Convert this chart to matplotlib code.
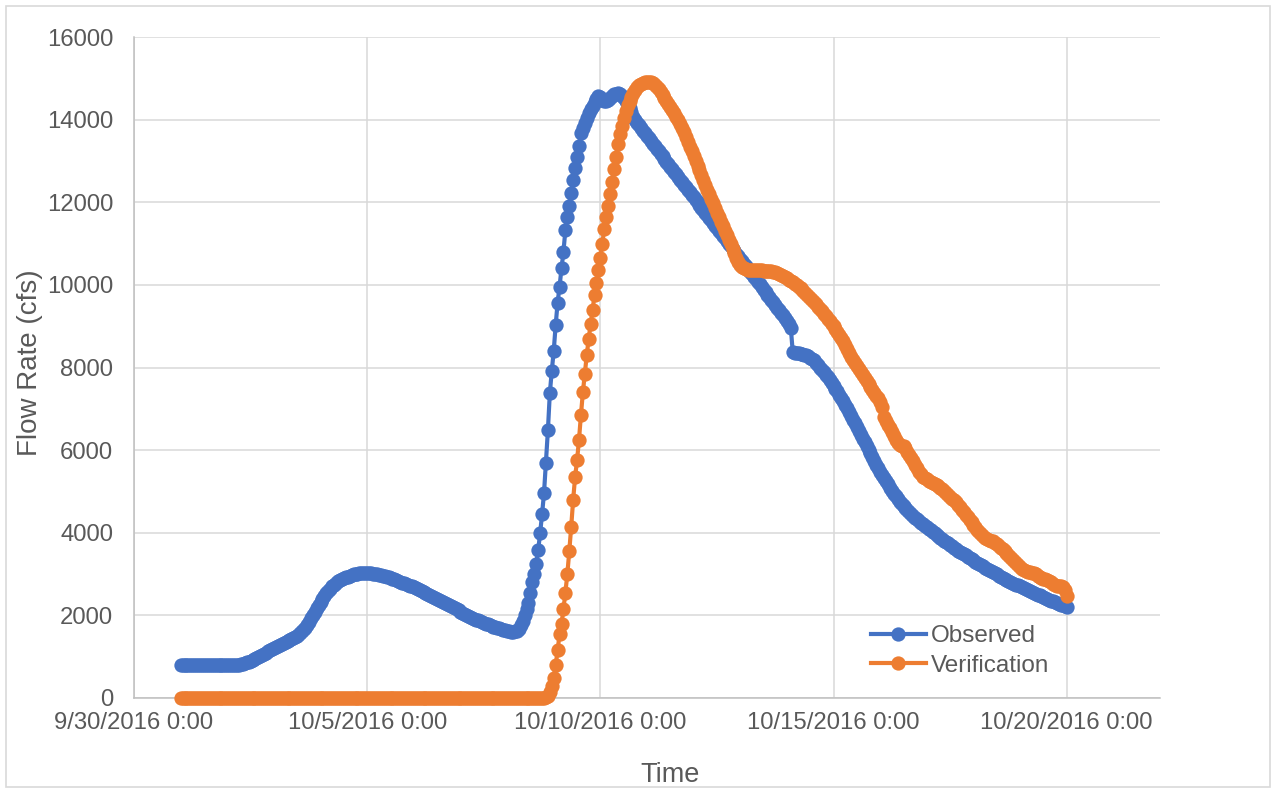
import matplotlib
matplotlib.use("Agg")
import matplotlib.pyplot as plt
import matplotlib.dates as mdates
from matplotlib.patches import Rectangle
from matplotlib.ticker import FuncFormatter
import pandas as pd

# Hourly flow series, starting 10/1/2016 0:00 (cfs)
series_start = "2016-10-01 00:00"

observed_cfs = [
    # 10/1
    790, 790, 790, 790, 790, 790, 790, 790, 790, 790, 790, 790, 790, 790, 790, 790, 790, 790, 790, 790, 790, 790, 790, 790,
    # 10/2
    790, 790, 790, 795, 800, 805, 810, 815, 825, 840, 860, 880, 900, 920, 940, 960, 985, 1010, 1040, 1070, 1100, 1130, 1160, 1185,
    # 10/3
    1210, 1235, 1255, 1280, 1300, 1320, 1345, 1370, 1395, 1420, 1445, 1470, 1500, 1540, 1590, 1640, 1700, 1770, 1850, 1930, 2010, 2090, 2170, 2250,
    # 10/4
    2330, 2400, 2470, 2540, 2600, 2650, 2700, 2745, 2785, 2820, 2850, 2875, 2900, 2920, 2940, 2960, 2975, 2990, 3000, 3010, 3020, 3025, 3030, 3035,
    # 10/5
    3035, 3030, 3020, 3010, 3000, 2990, 2980, 2970, 2960, 2950, 2940, 2925, 2910, 2890, 2870, 2850, 2830, 2810, 2795, 2780, 2760, 2740, 2720, 2700,
    # 10/6
    2680, 2655, 2635, 2610, 2590, 2570, 2545, 2520, 2500, 2480, 2455, 2430, 2405, 2380, 2355, 2330, 2305, 2280, 2260, 2235, 2210, 2180, 2150, 2120,
    # 10/7
    2090, 2060, 2030, 2005, 1980, 1960, 1940, 1920, 1900, 1880, 1860, 1840, 1820, 1800, 1780, 1765, 1750, 1730, 1715, 1700, 1685, 1670, 1655, 1640,
    # 10/8
    1625, 1610, 1600, 1600, 1610, 1630, 1680, 1760, 1870, 2000, 2150, 2300, 2550, 2800, 3000, 3250, 3580, 3990, 4450, 4960, 5700, 6480, 7380, 7920,
    # 10/9
    8400, 9030, 9570, 9960, 10400, 10800, 11330, 11650, 11920, 12220, 12540, 12830, 13100, 13350, 13670, 13800, 13910, 14040, 14150, 14250, 14320, 14420, 14500, 14560,
    # 10/10
    14550, 14480, 14440, 14440, 14470, 14530, 14580, 14610, 14630, 14640, 14620, 14580, 14520, 14450, 14380, 14280, 14180, 14070, 13980, 13920, 13860, 13800, 13735, 13670,
    # 10/11
    13610, 13545, 13485, 13420, 13360, 13300, 13235, 13175, 13110, 13050, 12985, 12925, 12860, 12800, 12740, 12675, 12615, 12550, 12490, 12425, 12365, 12305, 12240, 12180,
    # 10/12
    12120, 12055, 11995, 11930, 11870, 11810, 11745, 11685, 11620, 11560, 11500, 11435, 11375, 11310, 11250, 11190, 11125, 11065, 11000, 10940, 10880, 10815, 10755, 10690,
    # 10/13
    10630, 10570, 10505, 10445, 10380, 10320, 10260, 10195, 10135, 10070, 10010, 9950, 9885, 9825, 9760, 9700, 9640, 9575, 9510, 9450, 9385, 9320, 9260, 9190,
    # 10/14
    9120, 9050, 8960, 8380, 8360, 8350, 8340, 8330, 8320, 8310, 8300, 8270, 8240, 8210, 8180, 8120, 8060, 8000, 7940, 7880, 7820, 7760, 7700, 7630,
    # 10/15
    7560, 7490, 7420, 7340, 7260, 7180, 7095, 7010, 6920, 6830, 6740, 6650, 6555, 6460, 6370, 6280, 6190, 6100, 6010, 5920, 5830, 5740, 5650, 5560,
    # 10/16
    5480, 5400, 5320, 5245, 5170, 5095, 5020, 4950, 4880, 4815, 4755, 4700, 4645, 4595, 4545, 4500, 4455, 4410, 4365, 4325, 4285, 4245, 4205, 4170,
    # 10/17
    4135, 4100, 4060, 4025, 3990, 3950, 3915, 3880, 3845, 3810, 3775, 3740, 3705, 3670, 3640, 3605, 3570, 3540, 3510, 3480, 3450, 3420, 3390, 3360,
    # 10/18
    3330, 3300, 3270, 3240, 3215, 3185, 3155, 3130, 3100, 3075, 3045, 3020, 2990, 2965, 2940, 2915, 2890, 2865, 2840, 2815, 2795, 2770, 2745, 2725,
    # 10/19
    2700, 2680, 2655, 2635, 2610, 2590, 2570, 2545, 2525, 2505, 2485, 2460, 2440, 2420, 2400, 2380, 2360, 2340, 2320, 2300, 2280, 2260, 2240, 2220,
    # 10/20
    2200,
]

verification_cfs = [
    # 10/1
    0, 0, 0, 0, 0, 0, 0, 0, 0, 0, 0, 0, 0, 0, 0, 0, 0, 0, 0, 0, 0, 0, 0, 0,
    # 10/2
    0, 0, 0, 0, 0, 0, 0, 0, 0, 0, 0, 0, 0, 0, 0, 0, 0, 0, 0, 0, 0, 0, 0, 0,
    # 10/3
    0, 0, 0, 0, 0, 0, 0, 0, 0, 0, 0, 0, 0, 0, 0, 0, 0, 0, 0, 0, 0, 0, 0, 0,
    # 10/4
    0, 0, 0, 0, 0, 0, 0, 0, 0, 0, 0, 0, 0, 0, 0, 0, 0, 0, 0, 0, 0, 0, 0, 0,
    # 10/5
    0, 0, 0, 0, 0, 0, 0, 0, 0, 0, 0, 0, 0, 0, 0, 0, 0, 0, 0, 0, 0, 0, 0, 0,
    # 10/6
    0, 0, 0, 0, 0, 0, 0, 0, 0, 0, 0, 0, 0, 0, 0, 0, 0, 0, 0, 0, 0, 0, 0, 0,
    # 10/7
    0, 0, 0, 0, 0, 0, 0, 0, 0, 0, 0, 0, 0, 0, 0, 0, 0, 0, 0, 0, 0, 0, 0, 0,
    # 10/8
    0, 0, 0, 0, 0, 0, 0, 0, 0, 0, 0, 0, 0, 0, 0, 0, 0, 0, 0, 0, 15, 60, 150, 300,
    # 10/9
    480, 800, 1150, 1550, 1800, 2150, 2550, 3000, 3550, 4150, 4800, 5350, 5750, 6250, 6850, 7400, 7850, 8300, 8700, 9050, 9400, 9750, 10050, 10350,
    # 10/10
    10650, 11000, 11350, 11650, 11900, 12200, 12500, 12800, 13100, 13400, 13650, 13850, 14050, 14200, 14350, 14450, 14550, 14640, 14710, 14780, 14830, 14860, 14885, 14900,
    # 10/11
    14910, 14910, 14900, 14880, 14850, 14800, 14740, 14670, 14600, 14520, 14440, 14370, 14300, 14225, 14150, 14070, 13990, 13900, 13800, 13690, 13575, 13460, 13345, 13230,
    # 10/12
    13115, 13000, 12885, 12770, 12655, 12540, 12420, 12300, 12190, 12080, 11970, 11860, 11750, 11640, 11530, 11420, 11310, 11200, 11095, 10990, 10880, 10770, 10660, 10560,
    # 10/13
    10480, 10430, 10400, 10380, 10370, 10365, 10360, 10360, 10360, 10360, 10355, 10350, 10345, 10340, 10335, 10330, 10325, 10315, 10300, 10280, 10260, 10240, 10215, 10190,
    # 10/14
    10160, 10130, 10100, 10065, 10030, 9995, 9955, 9915, 9870, 9825, 9780, 9730, 9680, 9630, 9580, 9525, 9470, 9415, 9360, 9305, 9245, 9185, 9125, 9065,
    # 10/15
    9000, 8935, 8870, 8790, 8710, 8630, 8540, 8450, 8350, 8250, 8170, 8100, 8030, 7960, 7890, 7820, 7750, 7670, 7600, 7530, 7460, 7390, 7320, 7250,
    # 10/16
    7170, 7050, 6800, 6700, 6620, 6540, 6450, 6340, 6250, 6170, 6120, 6100, 6090, 6040, 5960, 5880, 5800, 5740, 5650, 5560, 5480, 5420, 5360, 5320,
    # 10/17
    5290, 5260, 5230, 5200, 5180, 5160, 5130, 5090, 5050, 5010, 4970, 4920, 4870, 4820, 4790, 4740, 4680, 4620, 4560, 4500, 4430, 4370, 4310, 4250,
    # 10/18
    4190, 4130, 4070, 4010, 3960, 3920, 3880, 3850, 3830, 3810, 3790, 3760, 3720, 3680, 3640, 3600, 3560, 3510, 3460, 3410, 3360, 3310, 3260, 3210,
    # 10/19
    3170, 3130, 3100, 3080, 3060, 3050, 3030, 3015, 2990, 2960, 2930, 2910, 2890, 2870, 2855, 2830, 2800, 2770, 2740, 2720, 2710, 2700, 2680, 2620,
    # 10/20
    2480,
]

series_names = ["Observed", "Verification"]
series_colors = ["#4472C4", "#ED7D31"]

x_ticks = ["2016-09-30", "2016-10-05", "2016-10-10", "2016-10-15", "2016-10-20"]
x_range = ["2016-09-30", "2016-10-22"]
y_ticks = [0, 2000, 4000, 6000, 8000, 10000, 12000, 14000, 16000]

TEXT = "#595959"
GRID = "#D9D9D9"

plt.rcParams["font.family"] = ["Liberation Sans", "DejaVu Sans"]

W, H = 1276, 793
fig = plt.figure(figsize=(W / 100, H / 100), dpi=100)
ax = fig.add_axes([134 / W, 1 - 698 / H, (1160 - 134) / W, (698 - 37) / H])

for name, color, values in zip(series_names, series_colors,
                               [observed_cfs, verification_cfs]):
    times = pd.date_range(series_start, periods=len(values), freq="h")
    ax.plot(times, values, color=color, lw=3.0, marker="o", ms=10.3,
            markeredgewidth=0, label=name, clip_on=False, zorder=3)

ax.set_xlim(pd.Timestamp(x_range[0]), pd.Timestamp(x_range[1]))
ax.set_ylim(y_ticks[0], y_ticks[-1])
ax.set_yticks(y_ticks)
ax.set_xticks([pd.Timestamp(t) for t in x_ticks])


def date_label(v, _pos):
    d = mdates.num2date(v)
    return f"{d.month}/{d.day}/{d.year} {d.hour}:{d.minute:02d}"


ax.xaxis.set_major_formatter(FuncFormatter(date_label))

ax.grid(True, color=GRID, lw=1.1)
ax.set_axisbelow(True)
for side in ("top", "right"):
    ax.spines[side].set_visible(False)
for side in ("left", "bottom"):
    ax.spines[side].set_color("#BFBFBF")
    ax.spines[side].set_linewidth(1.1)
    ax.spines[side].set_zorder(1)

ax.tick_params(axis="both", length=0, labelsize=17.2, labelcolor=TEXT)
ax.tick_params(axis="y", pad=15)
ax.tick_params(axis="x", pad=10)

fig.text(670 / W, 1 - 775 / H, "Time", ha="center", va="center",
         fontsize=19.5, color=TEXT)
fig.text(30 / W, 1 - 363 / H, "Flow Rate (cfs)", ha="center", va="center",
         rotation=90, fontsize=20, color=TEXT)

leg = ax.legend(loc="center left", bbox_to_anchor=(871 / W, 1 - 651 / H),
                bbox_transform=fig.transFigure, frameon=False, fontsize=17.5,
                handlelength=2.25, handletextpad=0.2, labelspacing=0.3,
                borderpad=0, borderaxespad=0)
for t in leg.get_texts():
    t.set_color(TEXT)

fig.patches.append(Rectangle((6 / W, 6 / H), 1 - 12 / W, 1 - 12 / H,
                             transform=fig.transFigure, fill=False,
                             ec=GRID, lw=1.2))

fig.savefig("out.png", dpi=100)
